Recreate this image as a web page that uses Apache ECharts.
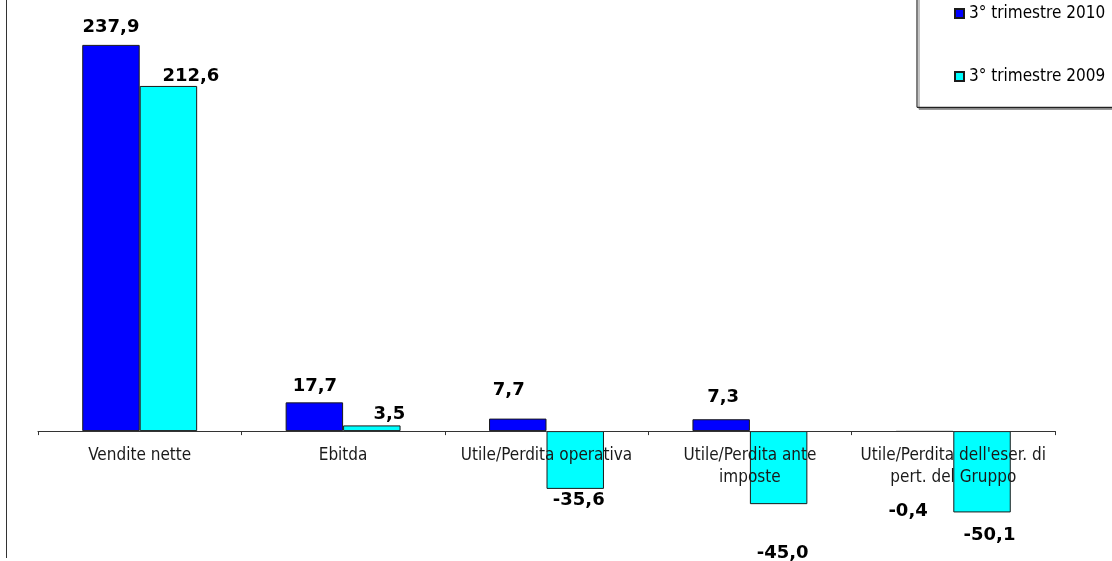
<!DOCTYPE html>
<html>
<head>
<meta charset="utf-8">
<script src="https://cdn.jsdelivr.net/npm/echarts@6/dist/echarts.min.js"></script>
<style>
html,body{margin:0;padding:0;background:#fff;}
#c{width:1112px;height:561px;}
</style>
</head>
<body>
<div id="c"></div>
<script>
var categories = ["Vendite nette", "Ebitda", "Utile/Perdita operativa", "Utile/Perdita ante\nimposte", "Utile/Perdita dell'eser. di\npert. del Gruppo"];
var seriesNames = ["3° trimestre 2010", "3° trimestre 2009"];
var values2010 = [237.9, 17.7, 7.7, 7.3, -0.4];
var values2009 = [212.6, 3.5, -35.6, -45.0, -50.1];

// label nudges (layout only, as in the original placement)
var labelDist2010 = [8.5, 7, 19.7, 13, 70];
var labelDx2010 = [0, 0.5, -9, 2, -16.5];
var labelDist2009 = [0.5, 2, 2, 40, 14];
var labelDx2009 = [22.5, 17.5, 3.5, 4, 7.5];

var FONT = "'DejaVu Sans Condensed', 'DejaVu Sans', sans-serif";

function fmt(v){ return v.toFixed(1).replace('.', ','); }
function buildData(vals, dist, dx){
  return vals.map(function(v, i){
    return {
      value: v,
      label: {
        position: v >= 0 ? 'top' : 'bottom',
        distance: dist[i],
        offset: [dx[i], 0]
      }
    };
  });
}

var chart = echarts.init(document.getElementById('c'), null, {renderer:'canvas'});
var labelCommon = {
  show: true,
  fontFamily: "'DejaVu Sans', sans-serif",
  fontWeight: 'bold',
  fontSize: 18,
  color: '#000',
  formatter: function(p){ return fmt(p.value); }
};
chart.setOption({
  backgroundColor: '#fff',
  animation: false,
  grid: {left: 38, right: 57, top: 9, bottom: 129.9, containLabel: false},
  legend: {
    orient: 'vertical',
    left: 917,
    top: -20,
    padding: [25, 40, 22.3, 37],
    itemGap: 46,
    itemWidth: 9,
    itemHeight: 9,
    icon: 'rect',
    backgroundColor: '#fff',
    borderColor: '#000',
    borderWidth: 1,
    shadowColor: '#888',
    shadowOffsetX: 2,
    shadowOffsetY: 2,
    shadowBlur: 0,
    textStyle: {fontFamily: FONT, fontSize: 17, lineHeight: 17, color: '#000'},
    data: seriesNames
  },
  xAxis: {
    type: 'category',
    data: categories,
    z: 5,
    axisLine: {lineStyle: {color: '#333', width: 1}},
    axisTick: {show: true, length: 4, lineStyle: {color: '#333'}},
    axisLabel: {
      interval: 0,
      margin: 13,
      fontFamily: FONT,
      fontSize: 17,
      lineHeight: 22,
      color: '#1a1a1a'
    },
    splitLine: {show: false}
  },
  yAxis: {
    type: 'value',
    min: 0,
    max: 260,
    show: false
  },
  series: [
    {
      name: seriesNames[0],
      type: 'bar',
      clip: false,
      barGap: '0%',
      barCategoryGap: '43.5%',
      itemStyle: {color: '#0000FF', borderColor: '#1a1a1a', borderWidth: 1},
      label: labelCommon,
      data: buildData(values2010, labelDist2010, labelDx2010)
    },
    {
      name: seriesNames[1],
      type: 'bar',
      clip: false,
      barGap: '0%',
      barCategoryGap: '43.5%',
      itemStyle: {color: '#00FFFF', borderColor: '#1a1a1a', borderWidth: 1},
      label: labelCommon,
      data: buildData(values2009, labelDist2009, labelDx2009)
    }
  ],
  graphic: [
    {
      type: 'line',
      shape: {x1: 6.5, y1: 0, x2: 6.5, y2: 558},
      style: {stroke: '#333', lineWidth: 1}
    }
  ]
});
</script>
</body>
</html>
